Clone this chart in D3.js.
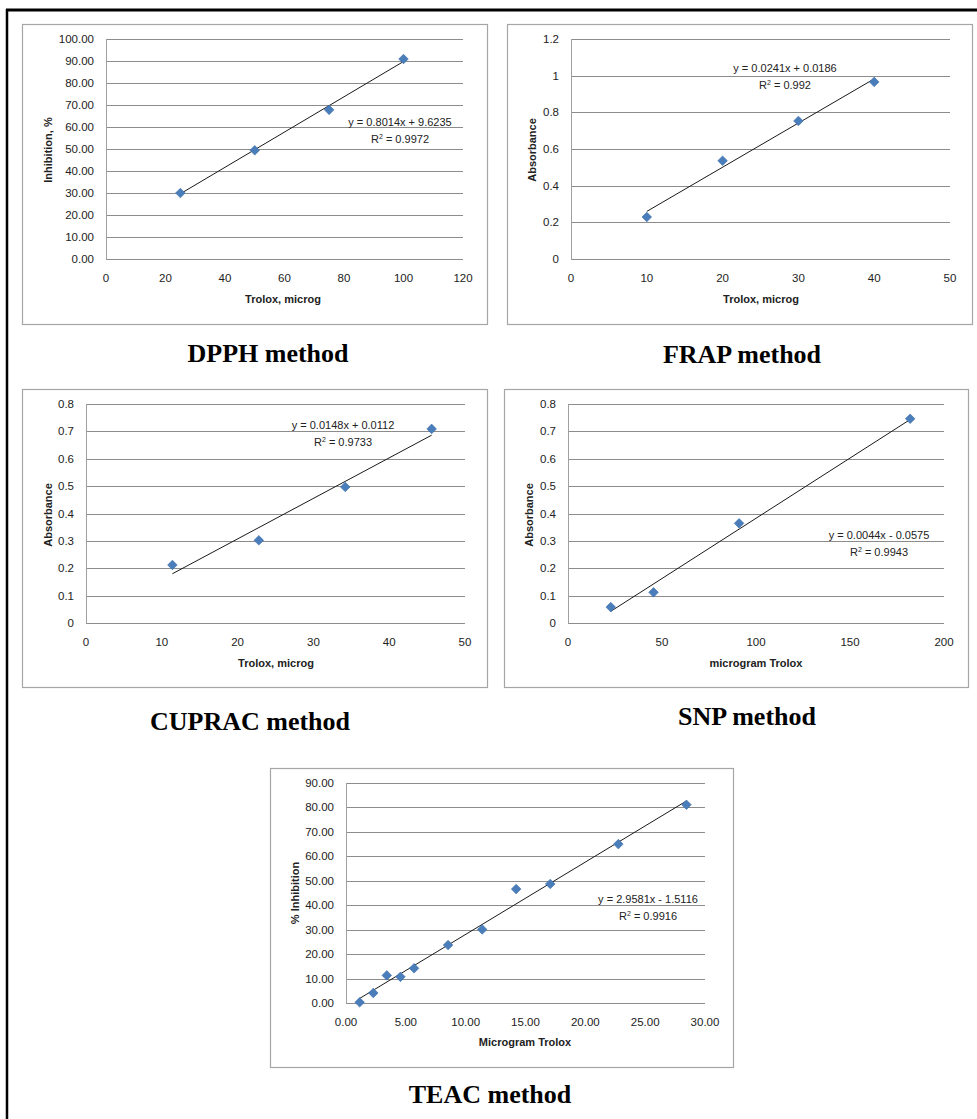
<!DOCTYPE html>
<html>
<head>
<meta charset="utf-8">
<script src="https://cdnjs.cloudflare.com/ajax/libs/d3/7.8.5/d3.min.js"></script>
<style>
  body { margin: 0; background: #fff; }
  .tick-label { font-family: "Liberation Sans", Arial, sans-serif; font-size: 11.5px; fill: #222; }
  .axis-title { font-family: "Liberation Sans", Arial, sans-serif; font-size: 11px; font-weight: bold; fill: #222; }
  .eq { font-family: "Liberation Sans", Arial, sans-serif; font-size: 11px; fill: #222; }
  .method { font-family: "Liberation Serif", "Times New Roman", serif; font-size: 26px; font-weight: bold; fill: #000; }
</style>
</head>
<body>
<div id="chart"></div>
<script>
// ---- data ----
var dpphX = [25, 50, 75, 100];
var dpphY = [30.0, 49.4, 67.8, 90.9];
var frapX = [10, 20, 30, 40];
var frapY = [0.229, 0.536, 0.753, 0.966];
var cupracX = [11.4, 22.8, 34.2, 45.6];
var cupracY = [0.212, 0.302, 0.497, 0.709];
var snpX = [22.75, 45.5, 91, 182];
var snpY = [0.058, 0.112, 0.364, 0.746];
var teacX = [1.14, 2.28, 3.41, 4.55, 5.69, 8.53, 11.38, 14.22, 17.07, 22.76, 28.45];
var teacY = [0.3, 4.1, 11.3, 10.7, 14.2, 23.7, 30.1, 46.6, 48.7, 65.0, 81.1];

// trendline coefficients (slope, intercept) and labels
var dpphFit = [0.8014, 9.6235];
var frapFit = [0.0241, 0.0186];
var cupracFit = [0.0148, 0.0112];
var snpFit = [0.0044, -0.0575];
var teacFit = [2.9581, -1.5116];
var dpphEq = ["y = 0.8014x + 9.6235", "0.9972"];
var frapEq = ["y = 0.0241x + 0.0186", "0.992"];
var cupracEq = ["y = 0.0148x + 0.0112", "0.9733"];
var snpEq = ["y = 0.0044x - 0.0575", "0.9943"];
var teacEq = ["y = 2.9581x - 1.5116", "0.9916"];

// tick values
var dpphXTicks = [0, 20, 40, 60, 80, 100, 120];
var dpphYTicks = [0, 10, 20, 30, 40, 50, 60, 70, 80, 90, 100];
var frapXTicks = [0, 10, 20, 30, 40, 50];
var frapYTicks = [0, 0.2, 0.4, 0.6, 0.8, 1, 1.2];
var cupracXTicks = [0, 10, 20, 30, 40, 50];
var cupracYTicks = [0, 0.1, 0.2, 0.3, 0.4, 0.5, 0.6, 0.7, 0.8];
var snpXTicks = [0, 50, 100, 150, 200];
var snpYTicks = [0, 0.1, 0.2, 0.3, 0.4, 0.5, 0.6, 0.7, 0.8];
var teacXTicks = [0, 5, 10, 15, 20, 25, 30];
var teacYTicks = [0, 10, 20, 30, 40, 50, 60, 70, 80, 90];

var W = 977, H = 1119;
var svg = d3.select("#chart").append("svg")
    .attr("width", W)
    .attr("height", H);

// outer frame (top and left edges only)
svg.append("line").attr("x1", 6).attr("x2", W).attr("y1", 10).attr("y2", 10)
    .attr("stroke", "#000").attr("stroke-width", 3);
svg.append("line").attr("x1", 7).attr("x2", 7).attr("y1", 9).attr("y2", H)
    .attr("stroke", "#000").attr("stroke-width", 2.5);

var f2 = d3.format(".2f");
var fg = function(d){ return String(+d.toFixed(2)); };

function drawPanel(p) {
    // outer box
    svg.append("rect")
        .attr("x", p.box[0] + 0.5).attr("y", p.box[1] + 0.5)
        .attr("width", p.box[2] - p.box[0]).attr("height", p.box[3] - p.box[1])
        .attr("fill", "#fff").attr("stroke", "#a6a6a6").attr("stroke-width", 1.2);

    var x = d3.scaleLinear().domain(p.xDom).range([p.plot[0], p.plot[2]]);
    var y = d3.scaleLinear().domain(p.yDom).range([p.plot[3], p.plot[1]]);
    var g = svg.append("g");

    // horizontal gridlines
    g.selectAll(".grid").data(p.yTicks).enter().append("line")
        .attr("x1", p.plot[0]).attr("x2", p.plot[2])
        .attr("y1", function(d){ return Math.round(y(d)) + 0.5; })
        .attr("y2", function(d){ return Math.round(y(d)) + 0.5; })
        .attr("stroke", "#8c8c8c").attr("stroke-width", 1);

    // left axis line
    g.append("line")
        .attr("x1", p.plot[0] + 0.5).attr("x2", p.plot[0] + 0.5)
        .attr("y1", p.plot[1]).attr("y2", p.plot[3] + 0.5)
        .attr("stroke", "#a0a0a0").attr("stroke-width", 1);

    // y tick labels
    g.selectAll(".ylab").data(p.yTicks).enter().append("text")
        .attr("class", "tick-label")
        .attr("x", p.plot[0] - 12)
        .attr("y", function(d){ return y(d) + 4; })
        .attr("text-anchor", "end")
        .text(p.yFmt);

    // x tick labels
    g.selectAll(".xlab").data(p.xTicks).enter().append("text")
        .attr("class", "tick-label")
        .attr("x", function(d){ return x(d); })
        .attr("y", p.plot[3] + 23)
        .attr("text-anchor", "middle")
        .text(p.xFmt);

    // axis titles
    g.append("text").attr("class", "axis-title")
        .attr("x", p.xTitlePos[0]).attr("y", p.xTitlePos[1])
        .attr("text-anchor", "middle")
        .text(p.xTitle);
    g.append("text").attr("class", "axis-title")
        .attr("transform", "translate(" + p.yTitlePos[0] + "," + p.yTitlePos[1] + ") rotate(-90)")
        .attr("text-anchor", "middle")
        .text(p.yTitle);

    // trendline
    var x0 = d3.min(p.xs), x1 = d3.max(p.xs);
    g.append("line")
        .attr("x1", x(x0)).attr("y1", y(p.fit[0] * x0 + p.fit[1]))
        .attr("x2", x(x1)).attr("y2", y(p.fit[0] * x1 + p.fit[1]))
        .attr("stroke", "#1a1a1a").attr("stroke-width", 1);

    // diamond markers
    var pts = p.xs.map(function(d, i){ return [d, p.ys[i]]; });
    g.selectAll(".pt").data(pts).enter().append("path")
        .attr("d", d3.symbol().type(d3.symbolSquare).size(46))
        .attr("transform", function(d){ return "translate(" + x(d[0]) + "," + y(d[1]) + ") rotate(45)"; })
        .attr("fill", "#4a7ebb").attr("stroke", "#3f6fa8").attr("stroke-width", 0.6);

    // equation and R squared
    g.append("text").attr("class", "eq")
        .attr("x", p.eqPos[0]).attr("y", p.eqPos[1])
        .attr("text-anchor", "middle")
        .text(p.eq[0]);
    var r = g.append("text").attr("class", "eq")
        .attr("x", p.eqPos[0]).attr("y", p.eqPos[1] + 17)
        .attr("text-anchor", "middle");
    r.append("tspan").text("R");
    r.append("tspan").attr("dy", -4).attr("font-size", "7px").text("2");
    r.append("tspan").attr("dy", 4).text(" = " + p.eq[1]);

    // method caption
    svg.append("text").attr("class", "method")
        .attr("x", p.caption[0]).attr("y", p.caption[1])
        .attr("text-anchor", "middle")
        .text(p.captionText);
}

drawPanel({
    box: [22, 24, 487, 324], plot: [106, 39, 463, 259],
    xDom: [0, 120], yDom: [0, 100], xTicks: dpphXTicks, yTicks: dpphYTicks,
    xFmt: fg, yFmt: f2, xs: dpphX, ys: dpphY, fit: dpphFit, eq: dpphEq,
    eqPos: [400, 126], xTitle: "Trolox, microg", xTitlePos: [283, 303],
    yTitle: "Inhibition, %", yTitlePos: [52, 150],
    caption: [268, 362], captionText: "DPPH method"
});
drawPanel({
    box: [507, 24, 972, 324], plot: [571, 39, 950, 259],
    xDom: [0, 50], yDom: [0, 1.2], xTicks: frapXTicks, yTicks: frapYTicks,
    xFmt: fg, yFmt: fg, xs: frapX, ys: frapY, fit: frapFit, eq: frapEq,
    eqPos: [785, 72], xTitle: "Trolox, microg", xTitlePos: [761, 303],
    yTitle: "Absorbance", yTitlePos: [536, 150],
    caption: [742, 363], captionText: "FRAP method"
});
drawPanel({
    box: [22, 389, 487, 687], plot: [86, 404, 465, 623],
    xDom: [0, 50], yDom: [0, 0.8], xTicks: cupracXTicks, yTicks: cupracYTicks,
    xFmt: fg, yFmt: fg, xs: cupracX, ys: cupracY, fit: cupracFit, eq: cupracEq,
    eqPos: [343, 429], xTitle: "Trolox, microg", xTitlePos: [276, 667],
    yTitle: "Absorbance", yTitlePos: [52, 515],
    caption: [250, 730], captionText: "CUPRAC method"
});
drawPanel({
    box: [504, 389, 968, 687], plot: [568, 404, 944, 623],
    xDom: [0, 200], yDom: [0, 0.8], xTicks: snpXTicks, yTicks: snpYTicks,
    xFmt: fg, yFmt: fg, xs: snpX, ys: snpY, fit: snpFit, eq: snpEq,
    eqPos: [879, 539], xTitle: "microgram Trolox", xTitlePos: [756, 667],
    yTitle: "Absorbance", yTitlePos: [533, 515],
    caption: [747, 725], captionText: "SNP method"
});
drawPanel({
    box: [270, 768, 733, 1067], plot: [346, 783, 705, 1003],
    xDom: [0, 30], yDom: [0, 90], xTicks: teacXTicks, yTicks: teacYTicks,
    xFmt: f2, yFmt: f2, xs: teacX, ys: teacY, fit: teacFit, eq: teacEq,
    eqPos: [648, 903], xTitle: "Microgram Trolox", xTitlePos: [525, 1046],
    yTitle: "% Inhibition", yTitlePos: [299, 893],
    caption: [490, 1103], captionText: "TEAC method"
});
</script>
</body>
</html>
